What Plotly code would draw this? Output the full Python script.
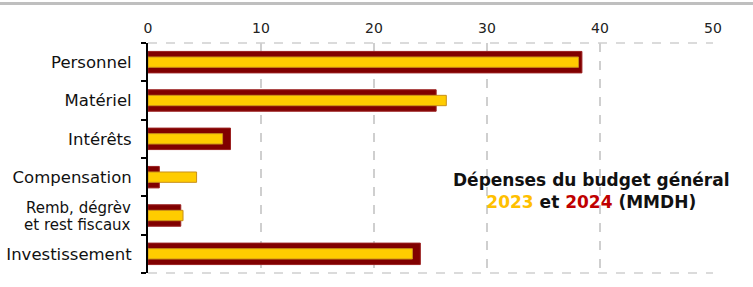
import plotly.graph_objects as go

categories = ["Personnel", "Matériel", "Intérêts", "Compensation",
              "Remb, dégrèv et rest fiscaux", "Investissement"]
tick_labels = ["Personnel", "Matériel", "Intérêts", "Compensation",
               "", "Investissement"]
remb_lines = ["Remb, dégrèv", "et rest fiscaux"]
values_2024 = [38.4, 25.5, 7.3, 1.0, 2.9, 24.1]
values_2023 = [38.1, 26.4, 6.6, 4.3, 3.1, 23.4]
x_ticks = [0, 10, 20, 30, 40, 50]

L, R, T, B = 148, 40, 43, 14
W, H = 753, 287
pw, ph = W - L - R, H - T - B

def px_x(X):
    return (X - L) / pw

def px_y(Y):
    return (H - B - Y) / ph

fig = go.Figure()
fig.add_trace(go.Bar(
    y=categories, x=values_2024, orientation="h", name="2024",
    width=0.56, marker=dict(color="#800000", line=dict(color="#9A2020", width=1)),
))
fig.add_trace(go.Bar(
    y=categories, x=values_2023, orientation="h", name="2023",
    width=0.27, marker=dict(color="#FFCC00", line=dict(color="#C8901A", width=1)),
))

label_font = dict(size=16.5, family="DejaVu Sans", color="#111111")

annotations = [
    dict(xref="paper", yref="paper", x=px_x(591), y=px_y(190.5),
         xanchor="center", yanchor="middle", showarrow=False, align="center",
         text=("Dépenses du budget général<br>"
               "<span style='color:#FFC000'>2023</span> et "
               "<span style='color:#C00000'>2024</span> (MMDH)"),
         font=dict(family="DejaVu Sans", size=17, color="#111111", weight="bold")),
]
for txt, yy in zip(remb_lines, [207.5, 225]):
    annotations.append(dict(
        xref="paper", yref="paper", x=px_x(132), y=px_y(yy),
        xanchor="right", yanchor="middle", showarrow=False, text=txt,
        borderpad=0, font=dict(size=15, family="DejaVu Sans", color="#111111")))

fig.update_layout(
    width=W, height=H, barmode="overlay", showlegend=False,
    margin=dict(l=L, r=R, t=T, b=B),
    paper_bgcolor="white", plot_bgcolor="white",
    font=dict(family="DejaVu Sans", color="#111111"),
    xaxis=dict(side="top", range=[0, 50], tickvals=x_ticks, automargin=False,
               showgrid=True, gridcolor="#CFCFCF", griddash="dash", gridwidth=1.5,
               zeroline=False, showline=False, ticks="", ticklabelstandoff=6,
               tickfont=dict(size=14, family="DejaVu Sans", color="#222222")),
    yaxis=dict(categoryorder="array", categoryarray=categories, autorange="reversed",
               tickmode="array", tickvals=categories, ticktext=tick_labels,
               automargin=False,
               showline=True, linecolor="black", linewidth=2,
               ticks="outside", tickson="boundaries", ticklen=5, tickcolor="black", tickwidth=1.5,
               ticklabelstandoff=11,
               showgrid=False, zeroline=False,
               tickfont=label_font),
    shapes=[
        dict(type="line", xref="paper", yref="paper", x0=0, x1=1, y0=1, y1=1,
             line=dict(color="#CFCFCF", width=1.5, dash="dash")),
        dict(type="line", xref="paper", yref="paper", x0=0, x1=1, y0=0, y1=0,
             line=dict(color="#CFCFCF", width=1.5, dash="dash")),
        dict(type="line", xref="paper", yref="paper", x0=px_x(0), x1=px_x(W),
             y0=px_y(3.5), y1=px_y(3.5), line=dict(color="#BFBFBF", width=3)),
    ],
    annotations=annotations,
)

fig.write_html("out.html", config={"displayModeBar": False},
               post_script="document.body.style.margin='0';")
